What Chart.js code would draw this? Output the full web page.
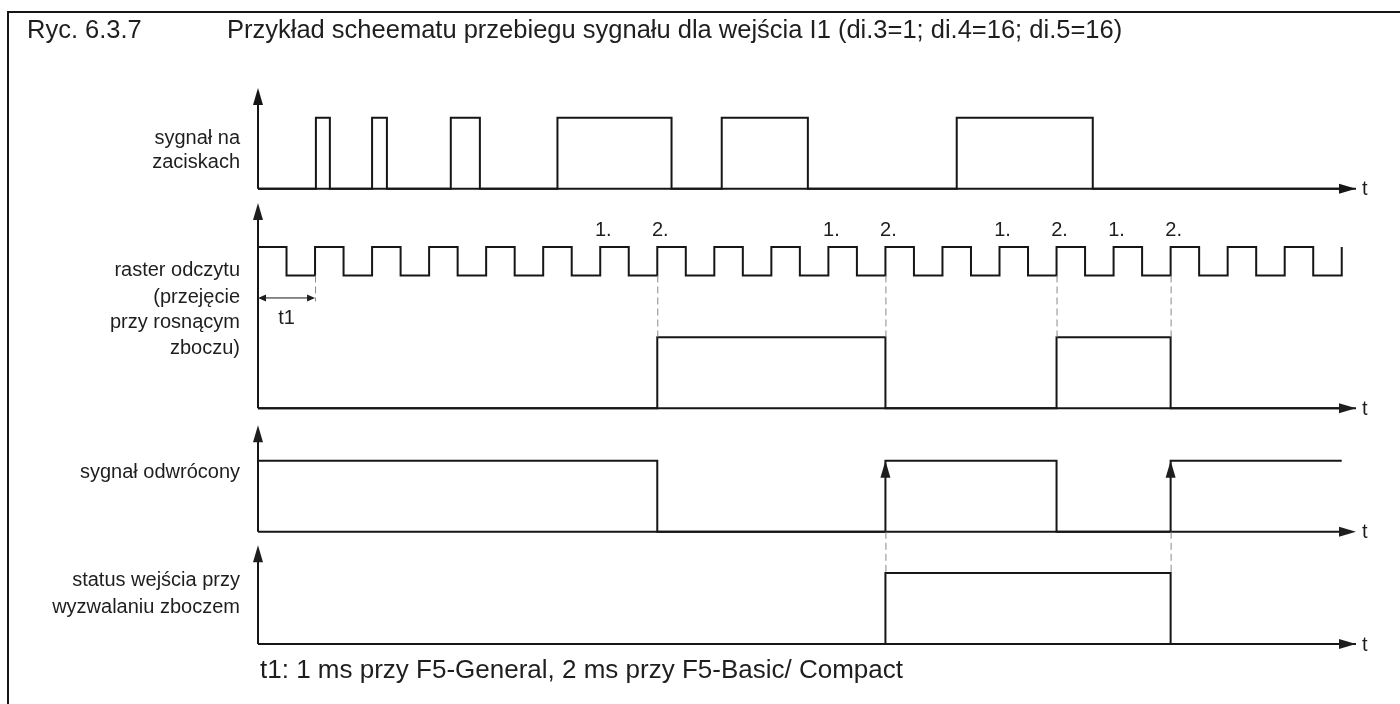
<!DOCTYPE html>
<html lang="pl">
<head>
<meta charset="utf-8">
<title>Ryc. 6.3.7</title>
<script src="https://cdn.jsdelivr.net/npm/chart.js@4.4.1/dist/chart.umd.min.js"></script>
<style>
  html, body { margin: 0; padding: 0; background: #fff; }
  canvas { display: block; }
</style>
</head>
<body>
<canvas id="timing" width="1400" height="704"></canvas>
<script>
// time axis in half periods of the read-out raster (t = 0 at the y axis)
const axisEnd = 38.5;

// sygnał na zaciskach
const terminalTimes = [0, 2.03, 2.52, 4.0, 4.52, 6.76, 7.78, 10.5, 14.5, 16.26, 19.28, 24.5, 29.27, 38.5];
const terminalLevels = [0, 1, 0, 1, 0, 1, 0, 1, 0, 1, 0, 1, 0, 0];

// raster odczytu (clock)
const rasterTimes = [0, 1, 2, 3, 4, 5, 6, 7, 8, 9, 10, 11, 12, 13, 14, 15, 16, 17, 18, 19,
  20, 21, 22, 23, 24, 25, 26, 27, 28, 29, 30, 31, 32, 33, 34, 35, 36, 37, 38];
const rasterLevels = [1, 0, 1, 0, 1, 0, 1, 0, 1, 0, 1, 0, 1, 0, 1, 0, 1, 0, 1, 0,
  1, 0, 1, 0, 1, 0, 1, 0, 1, 0, 1, 0, 1, 0, 1, 0, 1, 0, 1];

// przejecie przy rosnacym zboczu
const takeoverTimes = [0, 14, 22, 28, 32, 38.5];
const takeoverLevels = [0, 1, 0, 1, 0, 0];

// sygnal odwrocony
const invertedTimes = [0, 14, 22, 28, 32, 38];
const invertedLevels = [1, 0, 1, 0, 1, 1];

// status wejscia przy wyzwalaniu zboczem
const statusTimes = [0, 22, 32, 38.5];
const statusLevels = [0, 1, 0, 0];

// sample marks above the raster
const sampleTimes = [12, 14, 20, 22, 26, 28, 30, 32];
const sampleLabels = ["1.", "2.", "1.", "2.", "1.", "2.", "1.", "2."];
const takeoverGuides = [14, 22, 28, 32];
const statusGuides = [22, 32];
const risingArrows = [22, 32];
const t1Time = 2;

const laneLabels = [
  ["sygnał na", "zaciskach"],
  ["raster odczytu", "(przejęcie", "przy rosnącym", "zboczu)"],
  ["sygnał odwrócony"],
  ["status wejścia przy", "wyzwalaniu zboczem"]
];

// lane layout in level units (1 = one signal step)
const laneBase = [6.41, 3.32, 1.58, 0];
const laneTop = [7.83, 6.21, 3.08, 1.39];
const clockLow = 1.87, clockAmp = 0.4;
const labelY = [[138, 162], [270, 297, 322, 348], [472], [580, 607]];

const FONT = '"Liberation Sans", Arial, sans-serif';
const INK = "#161616";

function toPoints(times, levels, base, amp) {
  return times.map((t, i) => ({ x: t, y: base + levels[i] * amp }));
}

function stepSet(data) {
  return {
    data: data,
    stepped: "before",
    borderColor: INK,
    borderWidth: 2,
    pointRadius: 0,
    fill: false,
    clip: false,
    borderJoinStyle: "miter",
    borderCapStyle: "butt"
  };
}

function text(ctx, s, x, y, size, align) {
  ctx.font = size + "px " + FONT;
  ctx.textAlign = align || "left";
  ctx.textBaseline = "middle";
  ctx.fillStyle = "#1e1e1e";
  ctx.fillText(s, x, y);
}

function head(ctx, x, y, dir, len, half) {
  ctx.beginPath();
  if (dir === "up") {
    ctx.moveTo(x, y); ctx.lineTo(x - half, y + len); ctx.lineTo(x + half, y + len);
  } else if (dir === "right") {
    ctx.moveTo(x, y); ctx.lineTo(x - len, y - half); ctx.lineTo(x - len, y + half);
  } else {
    ctx.moveTo(x, y); ctx.lineTo(x + len, y - half); ctx.lineTo(x + len, y + half);
  }
  ctx.closePath();
  ctx.fill();
}

const decor = {
  id: "decor",
  afterDatasetsDraw(chart) {
    const ctx = chart.ctx;
    const X = v => chart.scales.x.getPixelForValue(v);
    const Y = v => chart.scales.y.getPixelForValue(v);
    ctx.save();
    ctx.strokeStyle = INK;
    ctx.fillStyle = INK;

    // frame
    ctx.lineWidth = 2;
    ctx.beginPath();
    ctx.moveTo(8, 704); ctx.lineTo(8, 12); ctx.lineTo(1400, 12);
    ctx.stroke();

    // axes
    laneBase.forEach((b, i) => {
      const x0 = X(0), yb = Y(b), yt = Y(laneTop[i]), xe = X(axisEnd);
      ctx.lineWidth = 2;
      ctx.beginPath();
      ctx.moveTo(x0, yb); ctx.lineTo(x0, yt + 14);
      ctx.moveTo(x0, yb); ctx.lineTo(xe - 14, yb);
      ctx.stroke();
      head(ctx, x0, yt, "up", 17, 5);
      head(ctx, xe, yb, "right", 17, 5);
      text(ctx, "t", xe + 6, yb + 1, 20);
    });

    // rising edge arrows on the inverted signal
    risingArrows.forEach(t => head(ctx, X(t), Y(laneBase[2] + 1), "up", 17, 5));

    // dashed guides
    ctx.save();
    ctx.strokeStyle = "#8a8a8a";
    ctx.lineWidth = 1;
    ctx.setLineDash([7, 4]);
    ctx.beginPath();
    takeoverGuides.forEach(t => {
      ctx.moveTo(X(t) + 0.5, Y(laneBase[1] + clockLow));
      ctx.lineTo(X(t) + 0.5, Y(laneBase[1] + 1));
    });
    statusGuides.forEach(t => {
      ctx.moveTo(X(t) + 0.5, Y(laneBase[2]));
      ctx.lineTo(X(t) + 0.5, Y(laneBase[3] + 1));
    });
    ctx.moveTo(X(t1Time) + 0.5, Y(laneBase[1] + clockLow));
    ctx.lineTo(X(t1Time) + 0.5, Y(laneBase[1] + clockLow) + 26);
    ctx.stroke();
    ctx.restore();

    // t1 span
    const ty = Y(laneBase[1] + clockLow) + 22;
    ctx.lineWidth = 1;
    ctx.beginPath();
    ctx.moveTo(X(0) + 6, ty + 0.5); ctx.lineTo(X(t1Time) - 6, ty + 0.5);
    ctx.stroke();
    head(ctx, X(0), ty + 0.5, "left", 8, 3.5);
    head(ctx, X(t1Time), ty + 0.5, "right", 8, 3.5);
    text(ctx, "t1", X(1), ty + 21, 20, "center");

    // sample marks
    sampleTimes.forEach((t, i) => {
      text(ctx, sampleLabels[i], X(t) + 3, Y(laneBase[1] + clockLow + clockAmp) - 17, 20, "center");
    });

    // lane labels
    laneLabels.forEach((lines, i) => {
      lines.forEach((s, j) => text(ctx, s, 240, labelY[i][j], 20, "right"));
    });

    // title and note
    text(ctx, "Ryc. 6.3.7", 27, 31, 25.5);
    text(ctx, "Przykład scheematu przebiegu sygnału dla wejścia I1 (di.3=1; di.4=16; di.5=16)", 227, 31, 25.5);
    text(ctx, "t1: 1 ms przy F5-General, 2 ms przy F5-Basic/ Compact", 260, 671, 26);
    ctx.restore();
  }
};

const datasets = [
  stepSet(toPoints(terminalTimes, terminalLevels, laneBase[0], 1)),
  stepSet(toPoints(rasterTimes, rasterLevels, laneBase[1] + clockLow, clockAmp)),
  stepSet(toPoints(takeoverTimes, takeoverLevels, laneBase[1], 1)),
  stepSet(toPoints(invertedTimes, invertedLevels, laneBase[2], 1)),
  stepSet(toPoints(statusTimes, statusLevels, laneBase[3], 1))
];

new Chart(document.getElementById("timing"), {
  type: "line",
  data: { datasets: datasets },
  options: {
    responsive: false,
    animation: false,
    devicePixelRatio: 1,
    layout: { padding: { left: 258, right: 44, top: 88, bottom: 60 } },
    plugins: { legend: { display: false }, tooltip: { enabled: false } },
    scales: {
      x: { type: "linear", min: 0, max: axisEnd, display: false },
      y: { type: "linear", min: 0, max: 7.83, display: false }
    }
  },
  plugins: [decor]
});
</script>
</body>
</html>
